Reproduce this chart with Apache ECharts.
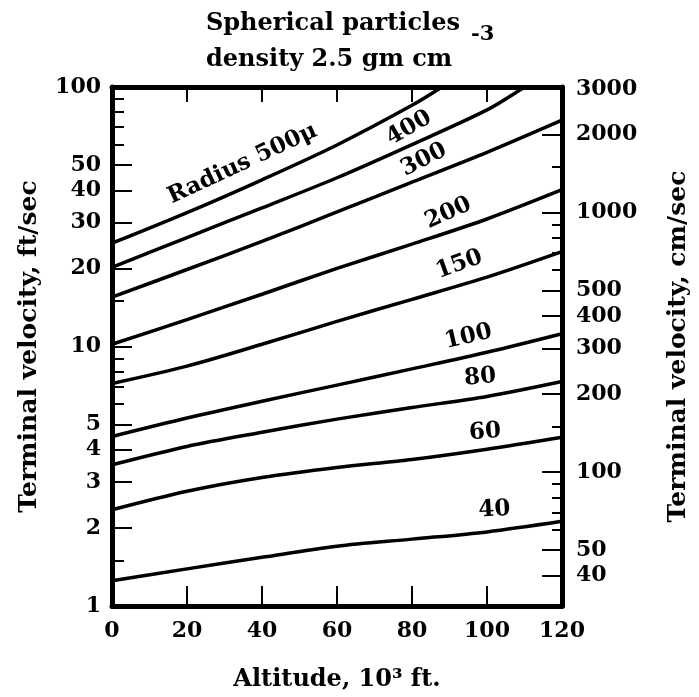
<!DOCTYPE html>
<html>
<head>
<meta charset="utf-8">
<script src="https://cdn.jsdelivr.net/npm/echarts@6/dist/echarts.min.js"></script>
<style>html,body{margin:0;padding:0;background:#fff;}#c{width:699px;height:697px;}</style>
</head>
<body>
<div id="c"></div>
<script>
// ---- data ----
const altStd = [0, 20, 40, 60, 80, 100, 120];
const alt400 = [0, 20, 40, 60, 80, 100, 110];
const alt500 = [0, 20, 40, 60, 80, 88];
const r500 = [25, 32.8, 43.9, 59.8, 85, 100];
const r400 = [20.2, 26.3, 34.2, 44.7, 60, 81.6, 100];
const r300 = [15.5, 19.8, 25.4, 33, 43, 56, 74.5];
const r200 = [10.2, 12.7, 15.9, 20.0, 24.8, 31.0, 40.2];
const r150 = [7.2, 8.4, 10.2, 12.5, 15.2, 18.5, 23.2];
const r100 = [4.5, 5.3, 6.15, 7.1, 8.2, 9.5, 11.2];
const r80 = [3.5, 4.12, 4.67, 5.25, 5.82, 6.42, 7.33];
const r60 = [2.35, 2.77, 3.13, 3.42, 3.67, 4.02, 4.47];
const r40 = [1.25, 1.39, 1.54, 1.70, 1.81, 1.93, 2.12];

const curveLabels = ['Radius 500\u03bc', '400', '300', '200', '150', '100', '80', '60', '40'];
const labelAlt = [34.8, 79.2, 83.2, 89.7, 92.6, 95, 98.2, 99.5, 102];
const labelVel = [50.5, 69.5, 52.4, 32.7, 20.7, 10.9, 7.6, 4.68, 2.35];
const labelAngle = [25, 30, 27, 24, 20, 13, 5, 4, 3];

const xTicks = [0, 20, 40, 60, 80, 100, 120];
const leftLabels = [1, 2, 3, 4, 5, 10, 20, 30, 40, 50, 100];
const leftLongTicks = [2, 3, 4, 5, 10, 20, 30, 40, 50];
const leftShortTicks = [1.5, 6, 7, 8, 9, 15, 60, 70, 80, 90];
const rightLabels = [40, 50, 100, 200, 300, 400, 500, 1000, 2000, 3000];
const rightLongTicks = [40, 50, 100, 200, 300, 400, 500, 1000, 2000];
const rightShortTicks = [60, 70, 80, 90, 150, 600, 700, 800, 900, 1500];
const FT_TO_CM = 30.48;

// ---- chart ----
const FONT = 'DejaVu Serif';
const chart = echarts.init(document.getElementById('c'), null, {renderer: 'canvas'});

function pairs(xs, ys) { return xs.map((x, i) => [x, ys[i]]); }
const curves = [
  pairs(alt500, r500), pairs(alt400, r400), pairs(altStd, r300), pairs(altStd, r200),
  pairs(altStd, r150), pairs(altStd, r100), pairs(altStd, r80), pairs(altStd, r60), pairs(altStd, r40)
];

const lineSeries = curves.map(d => ({
  type: 'line', xAxisIndex: 0, yAxisIndex: 0, data: d, smooth: 0.3,
  symbol: 'none', silent: true, clip: true,
  lineStyle: {color: '#000', width: 3.5}
}));

const labelSeries = {
  type: 'scatter', xAxisIndex: 0, yAxisIndex: 0, symbolSize: 0, silent: true,
  itemStyle: {color: '#000', opacity: 1},
  data: curveLabels.map((t, i) => ({
    value: [labelAlt[i], labelVel[i]],
    label: {show: true, formatter: t, rotate: labelAngle[i], position: 'inside',
      fontFamily: FONT, fontWeight: 'bold', fontSize: 23, color: '#000',
      textBorderWidth: 0, textBorderColor: 'transparent', opacity: 1}
  }))
};

const txt = {fontFamily: FONT, fontWeight: 'bold', color: '#000'};
const intFmt = v => String(Math.round(v));

const option = {
  backgroundColor: '#fff',
  animation: false,
  title: [
    {text: 'Spherical particles', left: 206, top: 12, padding: 0, textStyle: Object.assign({fontSize: 24}, txt)},
    {text: 'density 2.5 gm cm', left: 206, top: 48, padding: 0, textStyle: Object.assign({fontSize: 24}, txt)},
    {text: '-3', left: 471, top: 24, padding: 0, textStyle: Object.assign({fontSize: 21}, txt)}
  ],
  grid: {left: 112, right: 131, top: 87, bottom: 90, containLabel: false},
  xAxis: [
    {type: 'value', position: 'bottom', min: 0, max: 120, interval: 20,
     name: 'Altitude, 10\u00b3 ft.', nameLocation: 'middle', nameGap: 62,
     nameTextStyle: Object.assign({fontSize: 24}, txt),
     axisLine: {show: true, lineStyle: {color: '#000', width: 5}},
     axisTick: {show: true, inside: true, length: 20, customValues: xTicks, lineStyle: {color: '#000', width: 2}},
     axisLabel: Object.assign({fontSize: 22, margin: 14, customValues: xTicks, formatter: intFmt}, txt),
     splitLine: {show: false}},
    {type: 'value', position: 'top', min: 0, max: 120, interval: 20,
     axisLine: {show: true, lineStyle: {color: '#000', width: 5}},
     axisTick: {show: true, inside: true, length: 15, lineStyle: {color: '#000', width: 2}},
     axisLabel: {show: false}, splitLine: {show: false}}
  ],
  yAxis: [
    {type: 'log', logBase: 10, min: 1, max: 100, position: 'left',
     name: 'Terminal velocity, ft/sec', nameLocation: 'middle', nameGap: 70,
     nameTextStyle: Object.assign({fontSize: 25}, txt),
     axisLine: {show: true, lineStyle: {color: '#000', width: 5}},
     axisTick: {show: true, inside: true, length: 20, customValues: leftLongTicks, lineStyle: {color: '#000', width: 2}},
     axisLabel: Object.assign({fontSize: 22, margin: 11, customValues: leftLabels, formatter: intFmt}, txt),
     minorTick: {show: false}, splitLine: {show: false}},
    {type: 'log', logBase: 10, min: 1, max: 100, position: 'left', offset: 0,
     axisLine: {show: false},
     axisTick: {show: true, inside: true, length: 12, customValues: leftShortTicks, lineStyle: {color: '#000', width: 2}},
     axisLabel: {show: false}, splitLine: {show: false}},
    {type: 'log', logBase: 10, min: FT_TO_CM, max: 100 * FT_TO_CM, position: 'right',
     name: 'Terminal velocity, cm/sec', nameLocation: 'middle', nameGap: 104, nameRotate: 90,
     nameTextStyle: Object.assign({fontSize: 25}, txt),
     axisLine: {show: true, lineStyle: {color: '#000', width: 5}},
     axisTick: {show: true, inside: true, length: 20, customValues: rightLongTicks, lineStyle: {color: '#000', width: 2}},
     axisLabel: Object.assign({fontSize: 22, margin: 14, customValues: rightLabels, formatter: intFmt}, txt),
     splitLine: {show: false}},
    {type: 'log', logBase: 10, min: FT_TO_CM, max: 100 * FT_TO_CM, position: 'right', offset: 0,
     axisLine: {show: false},
     axisTick: {show: true, inside: true, length: 10, customValues: rightShortTicks, lineStyle: {color: '#000', width: 2}},
     axisLabel: {show: false}, splitLine: {show: false}}
  ],
  series: lineSeries.concat([labelSeries])
};
chart.setOption(option);
</script>
</body>
</html>
